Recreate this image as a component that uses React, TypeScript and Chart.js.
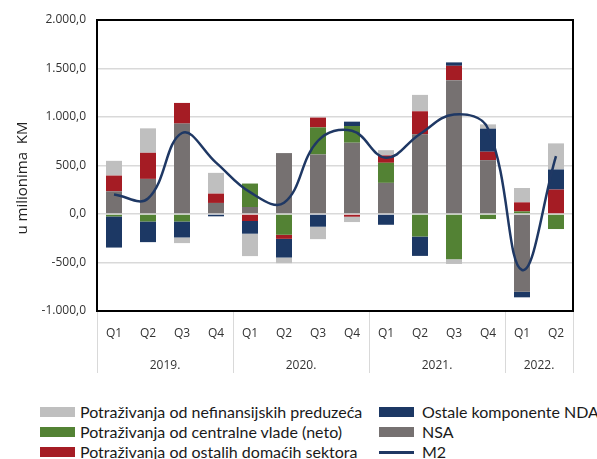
import React, { useEffect, useRef } from 'react';
import { Chart, registerables } from 'chart.js';

Chart.register(...registerables);

// ---- data ----
const quarters = ['Q1', 'Q2', 'Q3', 'Q4', 'Q1', 'Q2', 'Q3', 'Q4', 'Q1', 'Q2', 'Q3', 'Q4', 'Q1', 'Q2'];
const years = ['2019.', '2020.', '2021.', '2022.'];
const yearSpans = [4, 4, 4, 2];

const nsa = [234, 362, 932, 114, 72, 628, 614, 735, 321, 821, 1380, 555, -801, 0];
const centralnaVlada = [-25, -77, -77, 0, 242, -214, 279, 172, 207, -232, -466, -52, 27, -155];
const ostaliSektori = [162, 269, 213, 96, -72, -42, 101, -28, 76, 238, 148, 87, 93, 252];
const ostaleNDA = [-321, -213, -165, -24, -131, -193, -131, 45, -111, -200, 35, 238, -58, 207];
const preduzeca = [152, 252, -58, 214, -231, -58, -128, -55, 54, 169, -49, 44, 148, 269];
const m2 = [200, 160, 835, 530, 225, 115, 755, 858, 580, 825, 1025, 880, -577, 596];

const yTitle = 'u milionima  KM';
const yMin = -1000;
const yMax = 2000;
const yStep = 500;

const COLORS = {
  preduzeca: '#bfbfbf',
  vlada: '#538234',
  ostali: '#a51c24',
  nda: '#1c3864',
  nsa: '#767171',
  m2: '#1f3864',
};

const legendItems = [
  { label: 'Potraživanja od nefinansijskih preduzeća', color: COLORS.preduzeca, line: false },
  { label: 'Potraživanja od centralne vlade (neto)', color: COLORS.vlada, line: false },
  { label: 'Potraživanja od ostalih domaćih sektora', color: COLORS.ostali, line: false },
  { label: 'Ostale komponente NDA', color: COLORS.nda, line: false },
  { label: 'NSA', color: COLORS.nsa, line: false },
  { label: 'M2', color: COLORS.m2, line: true },
];

const fmt = (v: number) => {
  const s = Math.abs(v).toFixed(1);
  const [i, d] = s.split('.');
  return (v < 0 ? '-' : '') + i.replace(/\B(?=(\d{3})+(?!\d))/g, '.') + ',' + d;
};

const TICK_FONT = "'Open Sans', sans-serif";
const TEXT_COLOR = '#333333';

export default function App() {
  const ref = useRef<HTMLCanvasElement>(null);

  useEffect(() => {
    const decor = {
      id: 'decor',
      afterDraw(chart: any) {
        const { ctx, chartArea: a, scales } = chart;
        const x = scales.x;
        ctx.save();
        // year separators and labels
        const step = x.getPixelForValue(1) - x.getPixelForValue(0);
        ctx.strokeStyle = '#d9d9d9';
        ctx.lineWidth = 1;
        let idx = 0;
        const bounds: number[] = [x.getPixelForValue(0) - step / 2];
        years.forEach((y, k) => {
          idx += yearSpans[k];
          bounds.push(x.getPixelForValue(idx - 1) + step / 2);
        });
        bounds.forEach((bx) => {
          ctx.beginPath();
          ctx.moveTo(Math.round(bx) + 0.5, a.bottom);
          ctx.lineTo(Math.round(bx) + 0.5, a.bottom + 62);
          ctx.stroke();
        });
        ctx.fillStyle = TEXT_COLOR;
        ctx.font = `12px ${TICK_FONT}`;
        ctx.textAlign = 'center';
        ctx.textBaseline = 'middle';
        years.forEach((y, k) => {
          ctx.fillText(y, (bounds[k] + bounds[k + 1]) / 2, a.bottom + 55);
        });
        // plot border
        ctx.strokeStyle = '#000';
        ctx.lineWidth = 2;
        ctx.strokeRect(a.left, a.top, a.right - a.left, a.bottom - a.top);
        // y title
        ctx.translate(23, 178);
        ctx.rotate(-Math.PI / 2);
        ctx.font = `15px ${TICK_FONT}`;
        ctx.fillStyle = '#222';
        ctx.fillText(yTitle, 0, 0);
        ctx.restore();
      },
    };

    const bar = (label: string, data: number[], color: string) => ({
      type: 'bar' as const,
      label,
      data,
      backgroundColor: color,
      borderWidth: 0,
      order: 1,
      barPercentage: 0.47,
      categoryPercentage: 1,
    });

    const chart = new Chart(ref.current!, {
      type: 'bar',
      data: {
        labels: quarters,
        datasets: [
          {
            type: 'line' as const,
            label: 'M2',
            data: m2,
            borderColor: COLORS.m2,
            borderWidth: 2.5,
            pointRadius: 0,
            tension: 0.4,
            fill: false,
            order: 0,
          } as any,
          bar('NSA', nsa, COLORS.nsa),
          bar('Potraživanja od centralne vlade (neto)', centralnaVlada, COLORS.vlada),
          bar('Potraživanja od ostalih domaćih sektora', ostaliSektori, COLORS.ostali),
          bar('Ostale komponente NDA', ostaleNDA, COLORS.nda),
          bar('Potraživanja od nefinansijskih preduzeća', preduzeca, COLORS.preduzeca),
        ],
      },
      options: {
        responsive: false,
        animation: false,
        devicePixelRatio: 1,
        layout: { padding: { top: 20, right: 24, left: 0, bottom: 0 } },
        plugins: { legend: { display: false }, tooltip: { enabled: false } },
        scales: {
          x: {
            stacked: true,
            grid: { display: false, drawTicks: false },
            border: { display: false },
            ticks: {
              color: TEXT_COLOR,
              font: { family: TICK_FONT, size: 12 },
              padding: 15,
              maxRotation: 0,
              autoSkip: false,
            },
            afterFit: (s: any) => {
              s.height = 79;
            },
          },
          y: {
            stacked: true,
            min: yMin,
            max: yMax,
            grid: { color: '#d9d9d9', lineWidth: 1.5, drawTicks: false },
            border: { display: false },
            ticks: {
              stepSize: yStep,
              color: TEXT_COLOR,
              font: { family: TICK_FONT, size: 12 },
              padding: 11,
              callback: (v: any) => fmt(Number(v)),
            },
            afterFit: (s: any) => {
              s.width = 97;
            },
          },
        },
      },
      plugins: [decor],
    });
    return () => chart.destroy();
  }, []);

  const rowY = [412, 432, 452];
  const colX = [{ sw: 40, tx: 80 }, { sw: 379, tx: 422 }];

  return (
    <div
      style={{
        position: 'fixed',
        left: 0,
        top: 0,
        width: 597,
        height: 459,
        background: '#fff',
        overflow: 'hidden',
      }}
    >
      <canvas ref={ref} width={597} height={390} style={{ display: 'block', width: 597, height: 390 }} />
      {legendItems.map((it, i) => {
        const col = colX[Math.floor(i / 3)];
        const cy = rowY[i % 3];
        return (
          <React.Fragment key={it.label}>
            <div
              style={{
                position: 'absolute',
                left: col.sw,
                top: it.line ? cy - 1 : cy - 5,
                width: 35,
                height: it.line ? 2.5 : 10,
                background: it.color,
              }}
            />
            <div
              style={{
                position: 'absolute',
                left: col.tx,
                top: cy - 11,
                height: 22,
                lineHeight: '22px',
                fontFamily: "Lato, 'Open Sans', sans-serif",
                fontSize: 16,
                color: '#1a1a1a',
                whiteSpace: 'nowrap',
              }}
            >
              {it.label}
            </div>
          </React.Fragment>
        );
      })}
    </div>
  );
}
